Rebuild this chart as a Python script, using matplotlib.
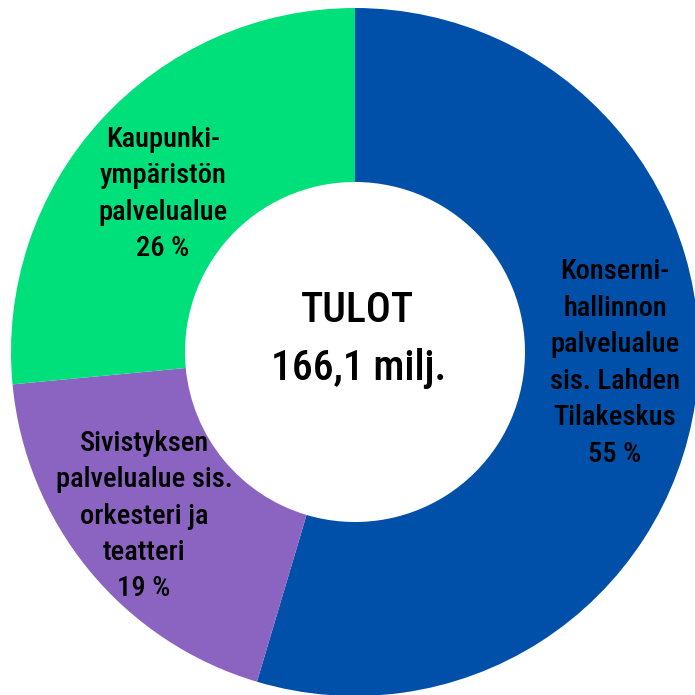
import matplotlib
matplotlib.use("Agg")
import matplotlib.pyplot as plt

labels = ["Konserni-\nhallinnon\npalvelualue\nsis. Lahden\nTilakeskus\n55 %",
          "Sivistyksen\npalvelualue sis.\norkesteri ja\nteatteri\n19 %",
          "Kaupunki-\nympäristön\npalvelualue\n26 %"]
values = [54.6, 18.9, 26.5]
colors = ["#0050AA", "#8A64C0", "#00E07A"]
center_lines = ["TULOT", "166,1 milj."]

plt.rcParams['font.family'] = ['Roboto Condensed', 'Roboto', 'DejaVu Sans']

fig = plt.figure(figsize=(6.95, 6.95), dpi=100)
ax = fig.add_axes([0, 0, 1, 1])
R = 344
wedges, _ = ax.pie(values, colors=colors, startangle=90, counterclock=False,
                   radius=R, center=(0, 0),
                   wedgeprops=dict(width=R - 170, linewidth=0))
ax.set_xlim(-355, 340)
ax.set_ylim(-343, 352)
ax.set_aspect('equal')
ax.axis('off')

pos = [(260, -11), (-211, -164), (-192, 158)]
for (x, y), lab in zip(pos, labels):
    ax.text(x, y, lab, ha='center', va='center', fontsize=20.5,
            fontweight='medium', linespacing=1.45, color='black')

ax.text(2, 30, center_lines[0], ha='center', va='baseline', fontsize=30,
        fontweight='medium', color='black')
ax.text(4, -28, center_lines[1], ha='center', va='baseline', fontsize=30,
        fontweight='medium', color='black')

fig.savefig("out.png", dpi=100)
